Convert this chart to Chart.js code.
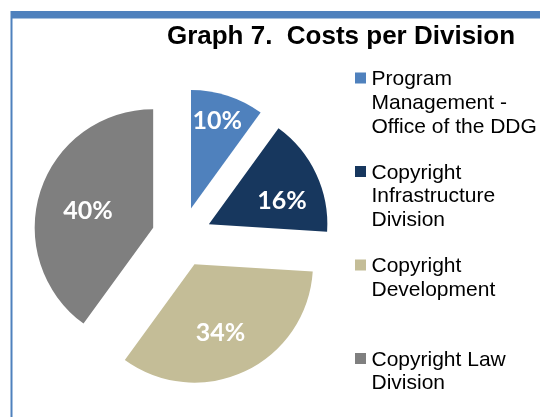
<!DOCTYPE html>
<html>
<head>
<meta charset="utf-8">
<script src="https://cdn.jsdelivr.net/npm/chart.js@4.4.1/dist/chart.umd.min.js"></script>
<style>
html,body{margin:0;padding:0;background:#ffffff;}
#wrap{position:relative;width:540px;height:417px;overflow:hidden;}
canvas{display:block;}
</style>
</head>
<body>
<div id="wrap"><canvas id="c" width="540" height="417"></canvas></div>
<script>
// ---- data ----
const titleText = "Graph 7.  Costs per Division";
const categories = [
  ["Program", "Management -", "Office of the DDG"],
  ["Copyright", "Infrastructure", "Division"],
  ["Copyright", "Development"],
  ["Copyright Law", "Division"]
];
const shares = [10, 16, 34, 40];
const colors = ["#4F81BD", "#17375E", "#C4BD97", "#7F7F7F"];

// ---- styling constants ----
const EXPLODE = 30;                       // slice explosion distance (px)
const labelRadius = [0.78, 0.65, 0.61, 0.57];
const labelAngleShift = [-1.5, 7, 4, -3]; // degrees
const FRAME = "#4F81BD";

// explode every slice outward along its mid angle
const origArcDraw = Chart.ArcElement.prototype.draw;
Chart.ArcElement.prototype.draw = function (ctx, area) {
  const h = (this.startAngle + this.endAngle) / 2;
  ctx.save();
  ctx.translate(Math.cos(h) * EXPLODE, Math.sin(h) * EXPLODE);
  origArcDraw.call(this, ctx, area);
  ctx.restore();
};

const framePlugin = {
  id: "frameTitle",
  beforeDraw(chart) {
    const ctx = chart.ctx;
    ctx.save();
    ctx.fillStyle = "#ffffff";
    ctx.fillRect(0, 0, chart.width, chart.height);
    ctx.fillStyle = FRAME;
    ctx.fillRect(11, 11, chart.width - 11, 7.5);
    ctx.fillRect(10.5, 11, 2, chart.height - 11);
    ctx.fillStyle = "#000000";
    ctx.font = 'bold 26px "Liberation Sans", Arial, sans-serif';
    ctx.textAlign = "center";
    ctx.textBaseline = "alphabetic";
    ctx.fillText(titleText, 341, 44);
    ctx.restore();
  }
};

const pctPlugin = {
  id: "pctLabels",
  afterDatasetsDraw(chart) {
    const ctx = chart.ctx;
    const meta = chart.getDatasetMeta(0);
    ctx.save();
    ctx.fillStyle = "#ffffff";
    ctx.font = 'bold 25px Lato, "Open Sans", sans-serif';
    ctx.textAlign = "center";
    ctx.textBaseline = "middle";
    meta.data.forEach((arc, i) => {
      const p = arc.getProps(["x", "y", "startAngle", "endAngle", "outerRadius"], true);
      const h = (p.startAngle + p.endAngle) / 2;
      const cx = p.x + Math.cos(h) * EXPLODE;
      const cy = p.y + Math.sin(h) * EXPLODE;
      const a = h + labelAngleShift[i] * Math.PI / 180;
      const r = p.outerRadius * labelRadius[i];
      ctx.fillText(shares[i] + "%", cx + Math.cos(a) * r, cy + Math.sin(a) * r + 1);
    });
    ctx.restore();
  }
};

const legendPlugin = {
  id: "sideLegend",
  afterDraw(chart) {
    const ctx = chart.ctx;
    ctx.save();
    ctx.font = '21px "Liberation Sans", Arial, sans-serif';
    ctx.textAlign = "left";
    ctx.textBaseline = "alphabetic";
    categories.forEach((lines, i) => {
      const cy = 78 + i * 93.5;
      ctx.fillStyle = colors[i];
      ctx.fillRect(355, cy - 5.5, 11, 11);
      ctx.fillStyle = "#000000";
      lines.forEach((t, j) => ctx.fillText(t, 371.5, cy + 7 + j * 23.8));
    });
    ctx.restore();
  }
};

new Chart(document.getElementById("c"), {
  type: "pie",
  data: {
    labels: categories.map(l => l.join(" ")),
    datasets: [{
      data: shares,
      backgroundColor: colors,
      borderWidth: 0,
      clip: false
    }]
  },
  options: {
    responsive: false,
    animation: false,
    devicePixelRatio: 1,
    events: [],
    radius: 118.5,
    layout: { padding: { left: 40, right: 216.6, top: 95, bottom: 38 } },
    plugins: {
      legend: { display: false },
      tooltip: { enabled: false },
      title: { display: false }
    }
  },
  plugins: [framePlugin, pctPlugin, legendPlugin]
});
</script>
</body>
</html>
